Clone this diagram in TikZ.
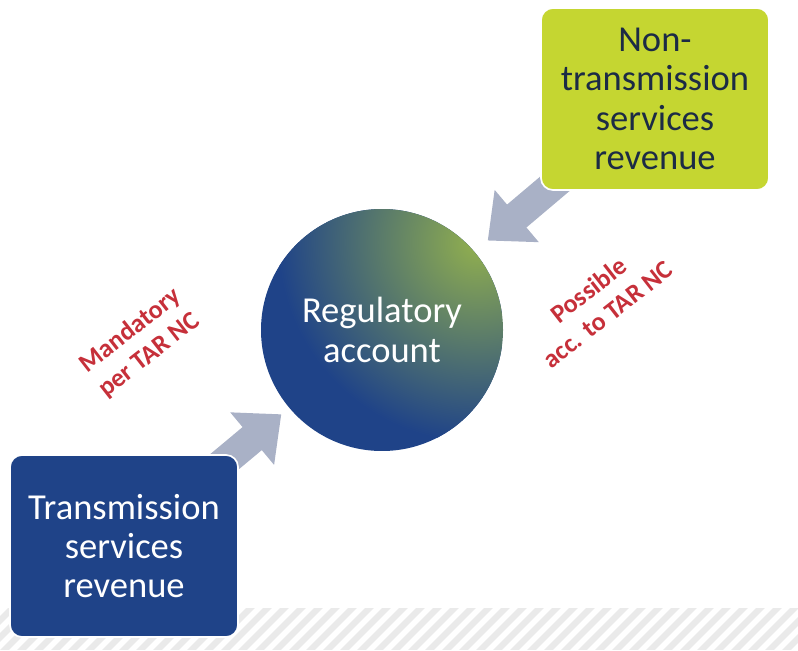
\documentclass[tikz,border=0pt]{standalone}
\usepackage{fontspec}
\setmainfont{Carlito}
\usepackage{tikz}
\usetikzlibrary{arrows.meta,backgrounds}
\definecolor{regblue}{RGB}{31,67,136}
\definecolor{reggreen}{RGB}{197,214,49}
\definecolor{rimgreen}{RGB}{146,176,78}
\definecolor{flowgrey}{RGB}{169,177,198}
\definecolor{notered}{RGB}{198,48,58}
\definecolor{darktext}{RGB}{28,43,69}
\definecolor{stripegrey}{RGB}{234,234,234}

\begin{document}
\begin{tikzpicture}[x=0.25cm,y=0.25cm,
    box/.style={rounded corners=0.3cm, draw=white, line width=1.2pt, minimum width=5.7cm, minimum height=4.55cm, align=center, font=\fontsize{26}{28}\selectfont},
    flow/.style={flowgrey, line width=0.75cm, -{Triangle[length=0.95cm,width=1.65cm]}},
    note/.style={notered, align=center, rotate=38, font=\bfseries\fontsize{18.5}{22}\selectfont}]
            \tikzstyle{every node}+=[inner sep=0pt]
            \useasboundingbox (0,0) rectangle (79.8,-65);
            \node [box, fill=regblue, text=white] (trans) at (12.4,-54.6) {Transmission\\services\\revenue};
            \node [box, fill=reggreen, text=darktext] (nontrans) at (65.5,-9.9) {Non-\\transmission\\services\\revenue};
            \node [circle, minimum size=6.05cm, text=white, align=center, font=\fontsize{26}{28}\selectfont,
                path picture={
                    \fill [regblue] (path picture bounding box.south west) rectangle (path picture bounding box.north east);
                    \shade [inner color=rimgreen, outer color=regblue] ([shift={(2.4cm,2.2cm)}]path picture bounding box.center) circle (5cm);
                }] (acct) at (38.2,-33) {Regulatory\\account};
            \node [note] (mand) at (14,-34.3) {Mandatory\\per TAR NC};
            \node [note] (poss) at (59.8,-30.2) {Possible\\acc. to TAR NC};
            \begin{scope}[on background layer]
                \begin{scope}
                    \clip (0,-60.8) rectangle (79.8,-65);
                    \fill [stripegrey] (0,-60.8) rectangle (79.8,-65);
                    \foreach \x in {-6,-4.3,...,82}
                        \draw [white, line width=4pt] (\x,-65.5) -- ++(5.5,5.5);
                \end{scope}
                \draw [flow, shorten <=-0.5cm, shorten >=0.25cm] (trans) -- (acct);
                \draw [flow, shorten <=-0.5cm, shorten >=0.43cm] (nontrans) -- (acct);
            \end{scope}
        \end{tikzpicture}
\end{document}
